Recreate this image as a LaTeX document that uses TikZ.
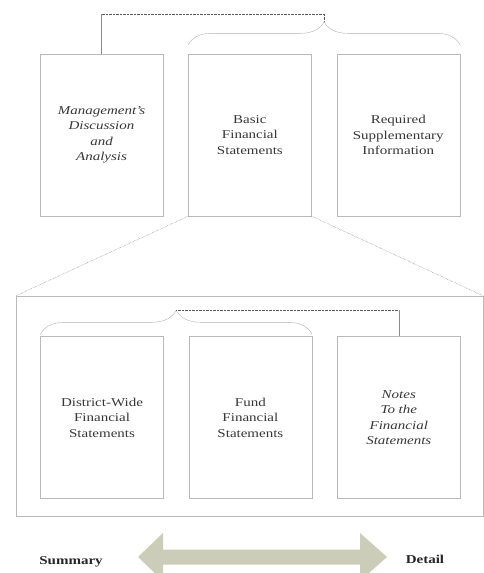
\documentclass[tikz,border=0pt]{standalone}
\usepackage{fontspec}
\setmainfont{Liberation Serif}[FakeStretch=1.25]
\usetikzlibrary{positioning,calc,decorations.pathreplacing}
\definecolor{boxline}{RGB}{185,185,185}
\definecolor{txt}{RGB}{55,55,55}
\definecolor{scalefill}{RGB}{204,205,184}
\begin{document}
\begin{tikzpicture}[x=1pt,y=-1pt,font=\fontsize{12}{15.5}\selectfont,text=txt,
	b/.style={draw=boxline,minimum width=123pt,minimum height=162pt,align=center,inner sep=1pt},
	it/.style={font=\fontsize{12}{15.5}\selectfont\itshape},
	dots/.style={draw=black!65,densely dotted},
	link/.style={draw=gray!90},
	br/.style={draw=gray!60,decorate,decoration={brace,amplitude=#1}}]
	\useasboundingbox (0,0) rectangle (484,573);
	% top row
	\node[b,it] (mda) at (101.5,135) {Management's\\Discussion\\and\\Analysis};
	\node[b,right=25pt of mda] (bfs) {Basic\\Financial\\Statements};
	\node[b,right=25pt of bfs] (rsi) {Required\\Supplementary\\Information};
	\draw[br=23pt] ([yshift=9pt]bfs.north west) -- ([yshift=9pt]rsi.north east);
	\coordinate (toptip) at ($(bfs.north west)!0.5!(rsi.north east)+(0,-32)$);
	\draw[link] (mda.north) -- ++(0,-40) coordinate (mdatop);
	\draw[dots] (mdatop) -| (toptip);
	% zoom into the basic statements
	\node[draw=boxline,minimum width=467pt,minimum height=220pt] (fsbox) at (249.5,406) {};
	\draw[dots] (bfs.south west) -- (fsbox.north west);
	\draw[dots] (bfs.south east) -- (fsbox.north east);
	% bottom row
	\node[b] (dwf) at (102,417.5) {District-Wide\\Financial\\Statements};
	\node[b,right=25pt of dwf] (ffs) {Fund\\Financial\\Statements};
	\node[b,it,right=25pt of ffs] (nfs) {Notes\\To the\\Financial\\Statements};
	\draw[br=24pt] ([yshift=2pt]dwf.north west) -- ([yshift=2pt]ffs.north east);
	\coordinate (bottip) at ($(dwf.north west)!0.5!(ffs.north east)+(0,-26)$);
	\coordinate (nfstop) at (bottip -| nfs.north);
	\draw[dots] (bottip) -- (nfstop);
	\draw[link] (nfstop) -- (nfs.north);
	% summary -- detail scale
	\node[font=\fontsize{12}{14}\selectfont\bfseries,text=black!85] (summary) at (71,562) {Summary};
	\node[font=\fontsize{12}{14}\selectfont\bfseries,text=black!85] (detail) at (425,559) {Detail};
	\fill[scalefill] (138,557) -- (163,533) -- (163,549.5) -- (360,549.5) -- (360,533) -- (387,557)
		-- (360,581) -- (360,564.5) -- (163,564.5) -- (163,581) -- cycle;
\end{tikzpicture}
\end{document}
